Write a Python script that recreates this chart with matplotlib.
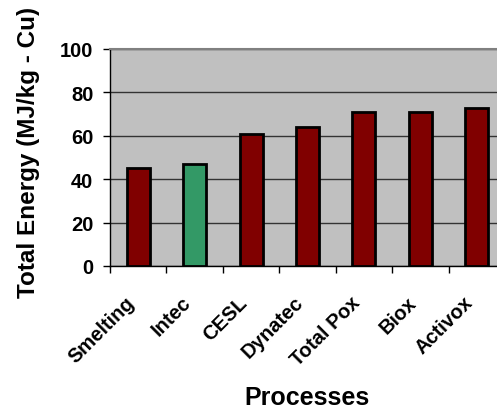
import matplotlib
matplotlib.use('Agg')
import matplotlib.pyplot as plt
import matplotlib.transforms as mtransforms
import numpy as np

plt.rcParams['font.family'] = ['Liberation Sans', 'DejaVu Sans']
plt.rcParams['font.weight'] = 'bold'

processes = ['Smelting', 'Intec', 'CESL', 'Dynatec', 'Total Pox', 'Biox', 'Activox']
energy = [45, 47, 61, 64, 71, 71, 73]
colors = ['#800000', '#339966', '#800000', '#800000', '#800000', '#800000', '#800000']

fig = plt.figure(figsize=(4.97, 4.10), dpi=100)
ax = fig.add_axes([110/497, (410-267)/410, 395/497, 217/410])
ax.set_facecolor('#C0C0C0')

x = np.arange(len(processes))
ax.bar(x, energy, width=0.41, color=colors, edgecolor='black', linewidth=2, zorder=3)

ax.set_xlim(-0.5, len(processes) - 0.5)
ax.set_ylim(0, 100)
ax.set_yticks([0, 20, 40, 60, 80, 100])
ax.yaxis.grid(True, color='#333333', linewidth=1, zorder=1)
ax.set_axisbelow(True)

# ticks on category boundaries, labels at centers
ax.set_xticks(np.arange(len(processes) + 1) - 0.5)
ax.set_xticklabels([])
ax.set_xticks(x, minor=True)
ax.set_xticklabels(processes, minor=True, rotation=45, ha='right', va='top',
                   fontsize=14.5, fontweight='bold')
shift = mtransforms.ScaledTranslation(-11/100, 0, fig.dpi_scale_trans)
for lab in ax.get_xticklabels(minor=True):
    lab.set_transform(lab.get_transform() + shift)
ax.tick_params(axis='x', which='minor', length=0, pad=19)
ax.tick_params(axis='x', which='major', length=5, width=1, direction='out')
ax.tick_params(axis='y', length=5, width=1, direction='out', labelsize=14.5, pad=7)
for lab in ax.get_yticklabels():
    lab.set_fontweight('bold')

for s in ['left', 'bottom']:
    ax.spines[s].set_color('black')
    ax.spines[s].set_linewidth(1)
ax.spines['top'].set_color('#808080')
ax.spines['top'].set_linewidth(1.5)
ax.spines['right'].set_visible(False)

ax.set_ylabel('Total Energy (MJ/kg - Cu)', fontsize=17.5, fontweight='bold')
ax.yaxis.set_label_coords(-70/395, 0.53)
ax.set_xlabel('Processes', fontsize=18, fontweight='bold')
ax.xaxis.set_label_coords(0.5, -0.55)

plt.savefig('out.png', dpi=100)
